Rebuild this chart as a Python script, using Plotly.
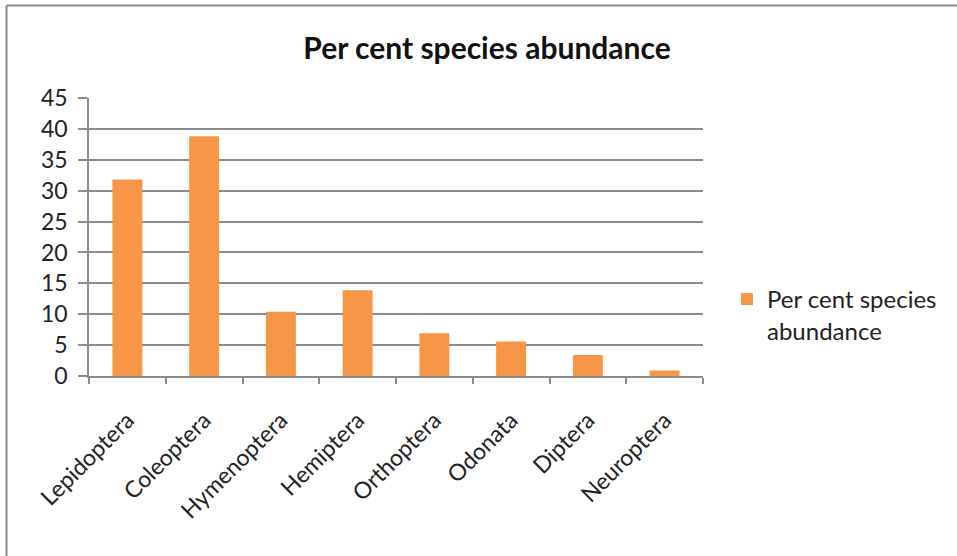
import plotly.graph_objects as go

# Insect orders and their share of recorded species (%)
orders = ["Lepidoptera", "Coleoptera", "Hymenoptera", "Hemiptera",
          "Orthoptera", "Odonata", "Diptera", "Neuroptera"]
abundance = [31.8, 38.8, 10.4, 13.9, 6.9, 5.6, 3.4, 0.9]
y_ticks = [0, 5, 10, 15, 20, 25, 30, 35, 40, 45]

series_name = "Per cent species abundance"
bar_color = "#F79646"
grid_color = "#8c8c8c"
font_family = "Lato, 'Open Sans', sans-serif"

W, H = 957, 556
ML, MR, MT, MB = 89, 254, 98, 180
plot_w = W - ML - MR
plot_h = H - MT - MB

fig = go.Figure()
fig.add_trace(go.Bar(
    x=orders,
    y=abundance,
    name="Per cent species<br>abundance",
    marker=dict(color=bar_color, line=dict(width=0)),
    showlegend=True,
))

# frame around the chart area (top and left edges visible)
px_to_x = lambda px: (px - ML) / plot_w
px_to_y = lambda py: (H - MB - py) / plot_h
frame = dict(color="#8a8a8a", width=2)
fig.add_shape(type="line", xref="paper", yref="paper",
              x0=px_to_x(6.5), x1=px_to_x(965), y0=px_to_y(5.5), y1=px_to_y(5.5), line=frame)
fig.add_shape(type="line", xref="paper", yref="paper",
              x0=px_to_x(6.5), x1=px_to_x(6.5), y0=px_to_y(5.5), y1=px_to_y(565), line=frame)

fig.update_layout(
    width=W, height=H,
    margin=dict(l=ML, r=MR, t=MT, b=MB),
    paper_bgcolor="white",
    plot_bgcolor="white",
    bargap=0.61,
    font=dict(family=font_family, color="#222222", size=23),
    title=dict(
        text="<b>Per cent species abundance</b>",
        font=dict(family=font_family, size=30, color="#111111"),
        x=px_to_x(487), xref="paper", xanchor="center",
        y=1 - 48 / H, yref="container", yanchor="middle",
    ),
    legend=dict(
        x=px_to_x(727), y=px_to_y(277), xref="paper", yref="paper",
        xanchor="left", yanchor="top", valign="top",
        font=dict(family=font_family, size=24, color="#222222"),
        bgcolor="rgba(0,0,0,0)",
        itemsizing="constant",
    ),
    xaxis=dict(
        type="category",
        tickangle=-45,
        showline=True, linecolor=grid_color, linewidth=1.5,
        ticks="outside", tickson="boundaries", ticklen=6,
        tickcolor=grid_color, tickwidth=1.5,
        showgrid=False,
        tickfont=dict(family=font_family, size=23, color="#222222"),
        ticklabelstandoff=20,
    ),
    yaxis=dict(
        range=[0, 45],
        tickvals=y_ticks,
        showline=True, linecolor=grid_color, linewidth=1.5,
        ticks="outside", ticklen=9, tickcolor=grid_color, tickwidth=1.5,
        showgrid=True, gridcolor=grid_color, gridwidth=1.5,
        zeroline=False,
        tickfont=dict(family=font_family, size=23, color="#222222"),
        ticklabelstandoff=6,
    ),
)

fig.write_html("out.html")
